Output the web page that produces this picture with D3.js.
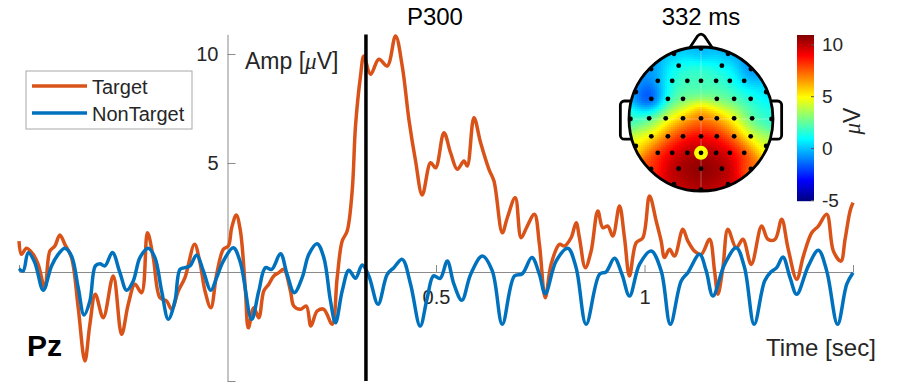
<!DOCTYPE html>
<html>
<head>
<meta charset="utf-8">
<script src="https://d3js.org/d3.v7.min.js"></script>
<style>
  body { margin: 0; background: #fff; }
  text { font-family: "Liberation Sans", Arial, Helvetica, sans-serif; }
</style>
</head>
<body>
<div id="chartContainer"></div>
<script type="text/javascript">
// ERP at channel Pz, time in sec, amplitude in uV
var targetTime = [-0.500,-0.494,-0.482,-0.466,-0.454,-0.438,-0.426,-0.414,-0.402,-0.390,-0.374,-0.358,-0.342,-0.330,-0.317,-0.298,-0.274,-0.254,-0.238,-0.222,
  -0.206,-0.192,-0.178,-0.162,-0.146,-0.134,-0.118,-0.102,-0.079,-0.066,-0.054,-0.040,-0.026,-0.010,0.002,0.010,0.021,0.031,0.043,0.050,
  0.063,0.075,0.087,0.099,0.111,0.123,0.135,0.151,0.159,0.175,0.189,0.200,0.215,0.231,0.251,0.263,0.275,0.287,0.299,0.307,
  0.319,0.327,0.343,0.363,0.383,0.403,0.419,0.435,0.451,0.467,0.487,0.499,0.519,0.535,0.551,0.567,0.575,0.591,0.607,0.627,
  0.639,0.659,0.671,0.690,0.704,0.717,0.736,0.748,0.762,0.776,0.796,0.808,0.824,0.836,0.844,0.858,0.872,0.888,0.900,0.912,
  0.924,0.940,0.952,0.964,0.980,0.996,1.012,1.028,1.040,1.048,1.060,1.072,1.092,1.104,1.120,1.136,1.156,1.168,1.176,1.188,
  1.200,1.220,1.236,1.256,1.281,1.296,1.313,1.329,1.344,1.365,1.381,1.401,1.417,1.437,1.453,1.471,1.481,1.493,1.500];
var targetAmp = [1.42,0.81,1.09,0.81,0.35,-0.72,0.96,1.19,1.70,1.27,0.66,-1.64,-4.08,-2.40,-1.02,-2.10,-0.18,-2.86,-1.48,-0.56,
  -0.95,1.80,0.66,-1.18,-1.33,-1.71,-0.87,-0.26,1.27,0.43,-0.87,-1.64,-0.11,1.04,1.19,2.03,2.61,1.88,-0.87,-2.56,
  -1.64,-2.10,-0.87,-0.56,-0.18,-0.03,0.12,-0.87,-1.56,-1.71,-1.56,-2.48,-1.79,-1.71,-2.40,-0.26,1.42,1.88,3.72,6.70,
  8.99,9.91,9.07,9.76,9.45,10.83,9.45,7.00,5.09,3.53,5.01,4.78,6.39,5.47,4.71,5.09,4.86,7.08,5.93,4.71,
  4.17,1.80,2.49,3.41,1.57,2.03,2.65,1.27,-1.18,0.35,1.27,1.19,1.57,2.26,1.57,0.20,0.96,2.80,2.03,2.11,
  1.65,3.03,1.57,-0.18,1.34,1.57,3.49,2.34,1.42,0.66,1.04,0.73,1.96,1.42,0.96,0.81,1.50,0.05,-1.02,0.20,
  1.96,1.11,1.50,0.35,2.11,1.50,1.50,2.42,1.11,-0.33,0.73,1.80,2.11,2.65,0.96,0.50,1.50,2.80,3.18];

var nonTargetTime = [-0.500,-0.490,-0.478,-0.462,-0.442,-0.422,-0.406,-0.390,-0.374,-0.358,-0.344,-0.330,-0.317,-0.306,-0.294,-0.276,-0.258,-0.242,-0.226,-0.210,
  -0.190,-0.174,-0.158,-0.142,-0.126,-0.114,-0.102,-0.090,-0.074,-0.058,-0.040,-0.026,-0.010,0.014,0.031,0.058,0.075,0.091,0.106,0.127,
  0.143,0.160,0.179,0.195,0.215,0.231,0.247,0.259,0.275,0.291,0.307,0.323,0.339,0.361,0.383,0.399,0.419,0.439,0.462,0.479,
  0.494,0.510,0.527,0.543,0.562,0.583,0.611,0.635,0.659,0.688,0.707,0.730,0.748,0.762,0.788,0.816,0.836,0.860,0.892,0.908,
  0.928,0.946,0.964,0.988,1.016,1.040,1.062,1.088,1.104,1.132,1.148,1.164,1.192,1.220,1.240,1.263,1.288,1.303,1.317,1.332,
  1.349,1.365,1.393,1.417,1.437,1.463,1.485,1.500];
var nonTargetAmp = [0.15,0.05,0.89,0.43,-0.84,0.28,0.81,1.09,0.73,-0.72,-1.97,-1.33,0.28,0.38,0.28,0.89,-0.03,-0.84,-0.41,0.66,
  1.09,0.66,-0.87,-2.17,-1.33,0.12,0.20,0.28,0.78,0.05,-0.84,-0.26,0.50,1.11,0.43,-2.17,-0.87,0.20,0.12,0.84,
  -0.11,-0.95,-0.26,0.81,1.30,0.66,-1.33,-2.33,-0.87,0.08,-0.29,0.32,-0.18,-1.48,-0.11,0.20,0.58,-0.56,-2.48,-1.18,
  -0.18,-0.29,0.50,-0.56,-1.30,-0.11,0.73,0.05,-2.40,-0.18,-0.08,0.66,-0.11,-1.00,0.50,1.09,0.20,-2.40,-0.11,0.01,
  0.63,-0.11,-1.10,0.35,0.96,0.05,-2.40,-0.41,-0.03,0.81,0.05,-1.10,0.35,1.11,0.20,-2.40,-0.41,0.00,0.20,0.69,
  -0.26,-1.02,0.28,1.00,0.05,-2.40,-0.56,-0.03];

var seriesNames = ["Target", "NonTarget"];
var seriesColors = ["#D95319", "#0072BD"];
var xTicks = [-0.5, 0.5, 1, 1.5];
var xTickLabels = ["", "0.5", "1", ""];
var yTicks = [-5, 5, 10];
var yTickLabels = ["", "5", "10"];
var markerTime = 0.332;

// scalp map at 332 ms: electrode positions (head radius = 1) and values in uV
var elecX = [-0.31,0.29,
  -0.60,-0.40,-0.19,0,0.21,0.40,0.60,
  -0.69,-0.46,-0.25,0.22,0.46,0.69,
  -0.72,-0.49,-0.25,0,0.22,0.46,0.71,
  -0.69,-0.46,-0.25,0,0.22,0.46,0.69,
  -0.60,-0.40,-0.19,0,0.21,0.40,0.60,
  -0.31,0,0.29,
  0,0.375,0.693,0.905,0.98,0.905,0.693,0.375,0,-0.375,-0.693,-0.905,-0.98,-0.905,-0.693,-0.375];
var elecY = [-0.74,-0.74,
  -0.53,-0.53,-0.53,-0.53,-0.53,-0.53,-0.53,
  -0.28,-0.28,-0.28,-0.28,-0.28,-0.28,
  -0.01,-0.01,-0.01,-0.01,-0.01,-0.01,-0.01,
  0.24,0.24,0.24,0.24,0.24,0.24,0.24,
  0.47,0.47,0.47,0.47,0.47,0.47,0.47,
  0.69,0.69,0.69,
  -0.98,-0.905,-0.693,-0.375,0,0.375,0.693,0.905,0.98,0.905,0.693,0.375,0,-0.375,-0.693,-0.905];
var elecV = [1.3,1.0,
  -0.8,1.8,2.0,1.9,2.0,1.6,-0.2,
  -4.5,2.0,2.6,2.6,2.2,1.6,
  2.0,4.3,6.0,7.0,6.5,4.6,1.8,
  4.5,7.0,8.5,9.0,8.5,7.0,3.6,
  8.5,9.5,10.2,10.5,10.2,9.5,8.5,
  10.6,10.9,10.6,
  -0.3,-0.8,-1.3,0.2,1.4,4.0,7.0,9.5,10.0,9.5,8.0,5.0,1.7,0.0,-0.8,-0.5];
var highlightElec = 32;   // Pz
var climits = [-5.1, 10.9];
var cbTicks = [-5, 0, 5, 10];

var width = 904, height = 392;
var svg = d3.select("#chartContainer").append("svg")
    .attr("width", width).attr("height", height);

var x = d3.scaleLinear().domain([-0.5, 1.5]).range([19, 853]);
var y = d3.scaleLinear().domain([-5, 10.9]).range([381, 34.4]);

// axes (drawn under the curves)
var gx = svg.append("g")
    .attr("transform", "translate(0," + y(0) + ")")
    .call(d3.axisBottom(x).tickValues(xTicks).tickSizeInner(-7).tickSizeOuter(0).tickPadding(18)
      .tickFormat(function (d, i) { return xTickLabels[i]; }));
var gy = svg.append("g")
    .attr("transform", "translate(" + x(0) + ",0)")
    .call(d3.axisLeft(y).tickValues(yTicks).tickSizeInner(-8).tickSizeOuter(0).tickPadding(9)
      .tickFormat(function (d, i) { return yTickLabels[i]; }));
[gx, gy].forEach(function (g) {
  g.attr("font-family", null).attr("font-size", null);
  g.selectAll("path,line").attr("stroke", "#8a8a8a").attr("stroke-width", 1);
  g.selectAll("text").attr("fill", "#262626").style("font-size", "20px");
});

// curves
var line = d3.line()
    .x(function (d) { return x(d[0]); })
    .y(function (d) { return y(d[1]); })
    .curve(d3.curveCatmullRom.alpha(0.5));
var series = [d3.zip(targetTime, targetAmp), d3.zip(nonTargetTime, nonTargetAmp)];
series.forEach(function (s, i) {
  svg.append("path").datum(s)
    .attr("d", line)
    .attr("fill", "none")
    .attr("stroke", seriesColors[i])
    .attr("stroke-width", 3.5)
    .attr("stroke-linejoin", "round");
});

// P300 marker
svg.append("line")
  .attr("x1", x(markerTime)).attr("x2", x(markerTime))
  .attr("y1", y(-5)).attr("y2", y(10.9))
  .attr("stroke", "#000").attr("stroke-width", 3.5);

// labels
svg.append("text").attr("x", x(markerTime) + 69).attr("y", 25).attr("text-anchor", "middle")
  .style("font-size", "24px").text("P300");
var amp = svg.append("text").attr("x", 245).attr("y", 69).attr("fill", "#262626").style("font-size", "23px");
amp.append("tspan").text("Amp [");
amp.append("tspan").style("font-family", "'Liberation Serif', serif").style("font-style", "italic").text("\u03BC");
amp.append("tspan").text("V]");
svg.append("text").attr("x", 766).attr("y", 356).attr("fill", "#262626")
  .style("font-size", "24px").text("Time [sec]");
svg.append("text").attr("x", 27).attr("y", 356)
  .style("font-size", "30px").style("font-weight", "bold").text("Pz");

// legend
var lg = svg.append("g");
lg.append("rect").attr("x", 26).attr("y", 71).attr("width", 166).attr("height", 58)
  .attr("fill", "#fff").attr("stroke", "#a8a8a8").attr("stroke-width", 1);
seriesNames.forEach(function (n, i) {
  var yy = 86 + i * 27;
  lg.append("line").attr("x1", 32).attr("x2", 87).attr("y1", yy).attr("y2", yy)
    .attr("stroke", seriesColors[i]).attr("stroke-width", 3.5);
  lg.append("text").attr("x", 92).attr("y", yy + 8).attr("fill", "#262626")
    .style("font-size", "20px").text(n);
});

// scalp map
var hx = d3.scaleLinear().domain([-1, 1]).range([629, 773]);
var hy = d3.scaleLinear().domain([-1, 1]).range([47, 191]);
var cNorm = d3.scaleLinear().domain(climits).range([0, 1]).clamp(true);
function jet(t) {
  function c(v) { return Math.max(0, Math.min(1, v)); }
  return d3.rgb(255 * c(1.5 - Math.abs(4 * t - 3)), 255 * c(1.5 - Math.abs(4 * t - 2)), 255 * c(1.5 - Math.abs(4 * t - 1)));
}
function field(nx, ny) {
  var s = 0, sw = 0, sig = 0.15;
  for (var i = 0; i < elecV.length; i++) {
    var dx = nx - elecX[i], dy = ny - elecY[i];
    var w = Math.exp(-(dx * dx + dy * dy) / (2 * sig * sig));
    s += w * elecV[i]; sw += w;
  }
  return s / sw;
}

var topo = svg.append("g");
svg.append("defs").append("clipPath").attr("id", "headClip")
  .append("circle").attr("cx", hx(0)).attr("cy", hy(0)).attr("r", hx(1) - hx(0));

// ears and nose
[-1, 1].forEach(function (sd) {
  topo.append("rect")
    .attr("x", sd < 0 ? hx(-1.12) : hx(0.93)).attr("y", hy(-0.25))
    .attr("width", hx(1.12) - hx(0.93)).attr("height", hy(0.28) - hy(-0.25))
    .attr("rx", 4).attr("fill", "#fff").attr("stroke", "#000").attr("stroke-width", 2.8);
});
topo.append("path")
  .attr("d", "M" + hx(-0.17) + "," + hy(-0.97) + "L" + hx(-0.05) + "," + hy(-1.15) +
    "Q" + hx(0) + "," + hy(-1.21) + " " + hx(0.05) + "," + hy(-1.15) +
    "L" + hx(0.17) + "," + hy(-0.97))
  .attr("fill", "#fff").attr("stroke", "#000").attr("stroke-width", 2.8).attr("stroke-linejoin", "round");

var cells = [], step = 2;
for (var px = hx(-1); px < hx(1); px += step) {
  for (var py = hy(-1); py < hy(1); py += step) {
    var nx = hx.invert(px + step / 2), ny = hy.invert(py + step / 2);
    if (nx * nx + ny * ny < 1.1) cells.push({ px: px, py: py, v: field(nx, ny) });
  }
}
topo.append("g").attr("clip-path", "url(#headClip)")
  .selectAll("rect").data(cells).enter().append("rect")
  .attr("x", function (d) { return d.px; }).attr("y", function (d) { return d.py; })
  .attr("width", step + 0.3).attr("height", step + 0.3)
  .attr("fill", function (d) { return jet(cNorm(d.v)); });
topo.append("g").attr("clip-path", "url(#headClip)").selectAll("line")
  .data([[hx(0), hy(-1), hx(0), hy(1)], [hx(-1), hy(0), hx(1), hy(0)]]).enter().append("line")
  .attr("x1", function (d) { return d[0]; }).attr("y1", function (d) { return d[1]; })
  .attr("x2", function (d) { return d[2]; }).attr("y2", function (d) { return d[3]; })
  .attr("stroke", "#fff").attr("stroke-opacity", 0.3).attr("stroke-width", 1);
topo.append("circle").attr("cx", hx(0)).attr("cy", hy(0)).attr("r", hx(1) - hx(0))
  .attr("fill", "none").attr("stroke", "#000").attr("stroke-width", 2.8);
topo.append("circle").attr("cx", hx(elecX[highlightElec])).attr("cy", hy(elecY[highlightElec]))
  .attr("r", 7).attr("fill", "#ffff00");
topo.selectAll(".el").data(elecV).enter().append("circle")
  .attr("cx", function (d, i) { return hx(elecX[i]); })
  .attr("cy", function (d, i) { return hy(elecY[i]); })
  .attr("r", 2.4).attr("fill", "#000");
svg.append("text").attr("x", hx(0)).attr("y", 25).attr("text-anchor", "middle")
  .style("font-size", "24px").text("332 ms");

// colorbar
var cb = d3.scaleLinear().domain(climits).range([201, 35]);
var cbRows = d3.range(35, 201);
svg.append("g").selectAll("rect").data(cbRows).enter().append("rect")
  .attr("x", 797).attr("y", function (d) { return d; })
  .attr("width", 17).attr("height", 1.2)
  .attr("fill", function (d) { return jet(cNorm(cb.invert(d + 0.5))); });
var gc = svg.append("g").attr("transform", "translate(814,0)")
  .call(d3.axisRight(cb).tickValues(cbTicks).tickSizeInner(-3).tickSizeOuter(0).tickPadding(8));
gc.attr("font-family", null).attr("font-size", null);
gc.select(".domain").attr("stroke", "none");
gc.selectAll("line").attr("stroke", "#555");
gc.selectAll("text").attr("fill", "#262626").style("font-size", "19px")
  .text(function (d) { return d; });
var cbl = svg.append("text").attr("transform", "translate(860,121) rotate(-90)")
  .attr("text-anchor", "middle").attr("fill", "#262626").style("font-size", "23px");
cbl.append("tspan").style("font-family", "'Liberation Serif', serif").style("font-style", "italic").text("\u03BC");
cbl.append("tspan").text("V");
</script>
</body>
</html>
